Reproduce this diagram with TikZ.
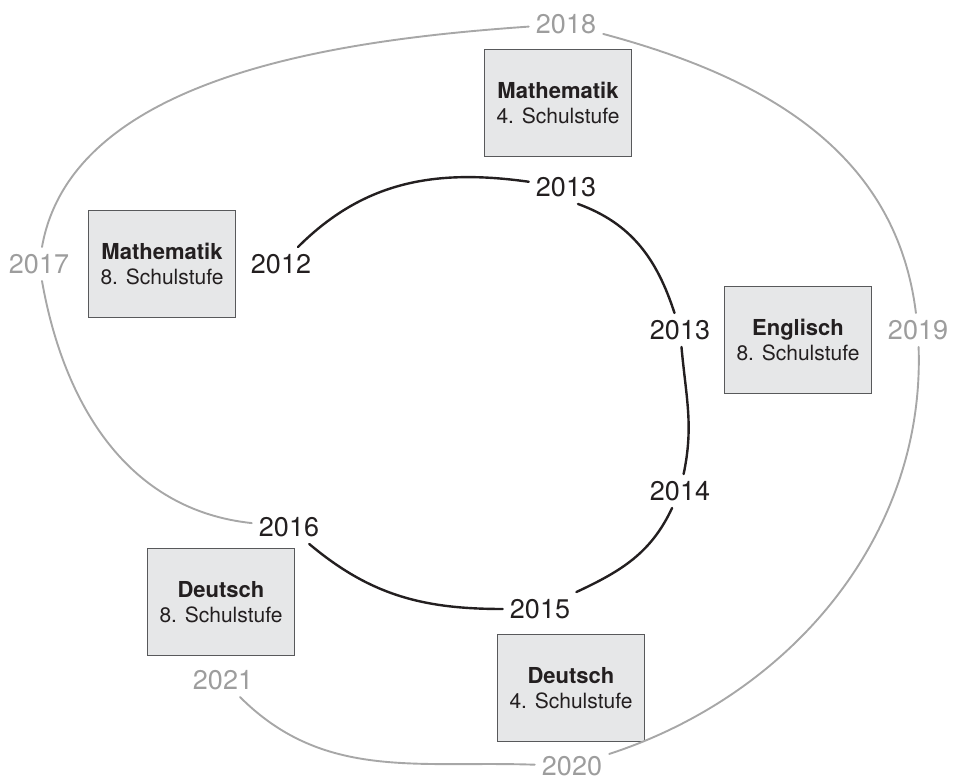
\documentclass[tikz,border=0pt]{standalone}
\usepackage{fontspec}
\setmainfont{TeX Gyre Heros}
\usepackage{xcolor}
\usepackage{tikz}
\usetikzlibrary{calc}
\definecolor{boxfill}{HTML}{E6E7E8}
\definecolor{boxline}{HTML}{58595B}
\definecolor{inkdark}{HTML}{231F20}
\definecolor{inkgray}{HTML}{9D9D9D}
\tikzstyle{subj}=[rectangle, draw=boxline, fill=boxfill,% grey box for the subject
line width=0.8pt, minimum width=147pt, minimum height=107pt, align=center,
text=inkdark, font=\fontsize{21}{25}\selectfont]
\tikzstyle{yr}=[inner sep=7pt, text=inkdark, font=\fontsize{27}{30}\selectfont]
\tikzstyle{yrgray}=[yr, text=inkgray]
\tikzstyle{brush}=[line width=2.4pt, draw=inkdark, line cap=round]
\tikzstyle{brushgray}=[line width=1.9pt, draw=inkgray!90, line cap=round]

\begin{document}
\begin{tikzpicture}[x=1pt,y=1pt]
\useasboundingbox (0,0) rectangle (955,780);
\node[subj] (m4) at (558,677) {\textbf{\fontsize{22}{25}\selectfont Mathematik}\\4. Schulstufe};
\node[subj] (m8) at (162,516) {\textbf{\fontsize{22}{25}\selectfont Mathematik}\\8. Schulstufe};
\node[subj] (e8) at (798,440) {\textbf{\fontsize{22}{25}\selectfont Englisch}\\8. Schulstufe};
\node[subj] (d8) at (221,178) {\textbf{\fontsize{22}{25}\selectfont Deutsch}\\8. Schulstufe};
\node[subj] (d4) at (571,92) {\textbf{\fontsize{22}{25}\selectfont Deutsch}\\4. Schulstufe};
\node[yr] (y2012) at (281,516) {2012};
\node[yr] (y2013a) at (566,593) {2013};
\node[yr] (y2013b) at (680,450) {2013};
\node[yr] (y2014) at (680,289) {2014};
\node[yr] (y2015) at (540,171) {2015};
\node[yr] (y2016) at (289,253) {2016};
\node[yrgray] (y2017) at (39,516) {2017};
\node[yrgray] (y2018) at (566,756) {2018};
\node[yrgray] (y2019) at (918,450) {2019};
\node[yrgray] (y2020) at (572,14) {2020};
\node[yrgray] (y2021) at (223,100) {2021};
% inner round
\draw[brush] (y2012) to[out=45,in=172] (y2013a);
\draw[brush] ([xshift=12pt]y2013a.south) to[out=-20,in=108] (y2013b);
\draw[brush] (y2013b) to[out=-85,in=78] (y2014);
\draw[brush] (y2014) to[out=-115,in=25] (y2015);
\draw[brush] (y2015) to[out=180,in=-40] (y2016);
% outer round
\draw[brushgray] (y2016) to[out=174,in=-80] (y2017);
\draw[brushgray] (y2017) to[out=80,in=184,looseness=0.85] (y2018);
\draw[brushgray] (y2018) to[out=-15,in=97] (y2019);
\draw[brushgray] (y2019) to[out=-88,in=18,looseness=0.95] (y2020);
\draw[brushgray] (y2020) to[out=178,in=-45] (y2021);
\end{tikzpicture}
\end{document}
